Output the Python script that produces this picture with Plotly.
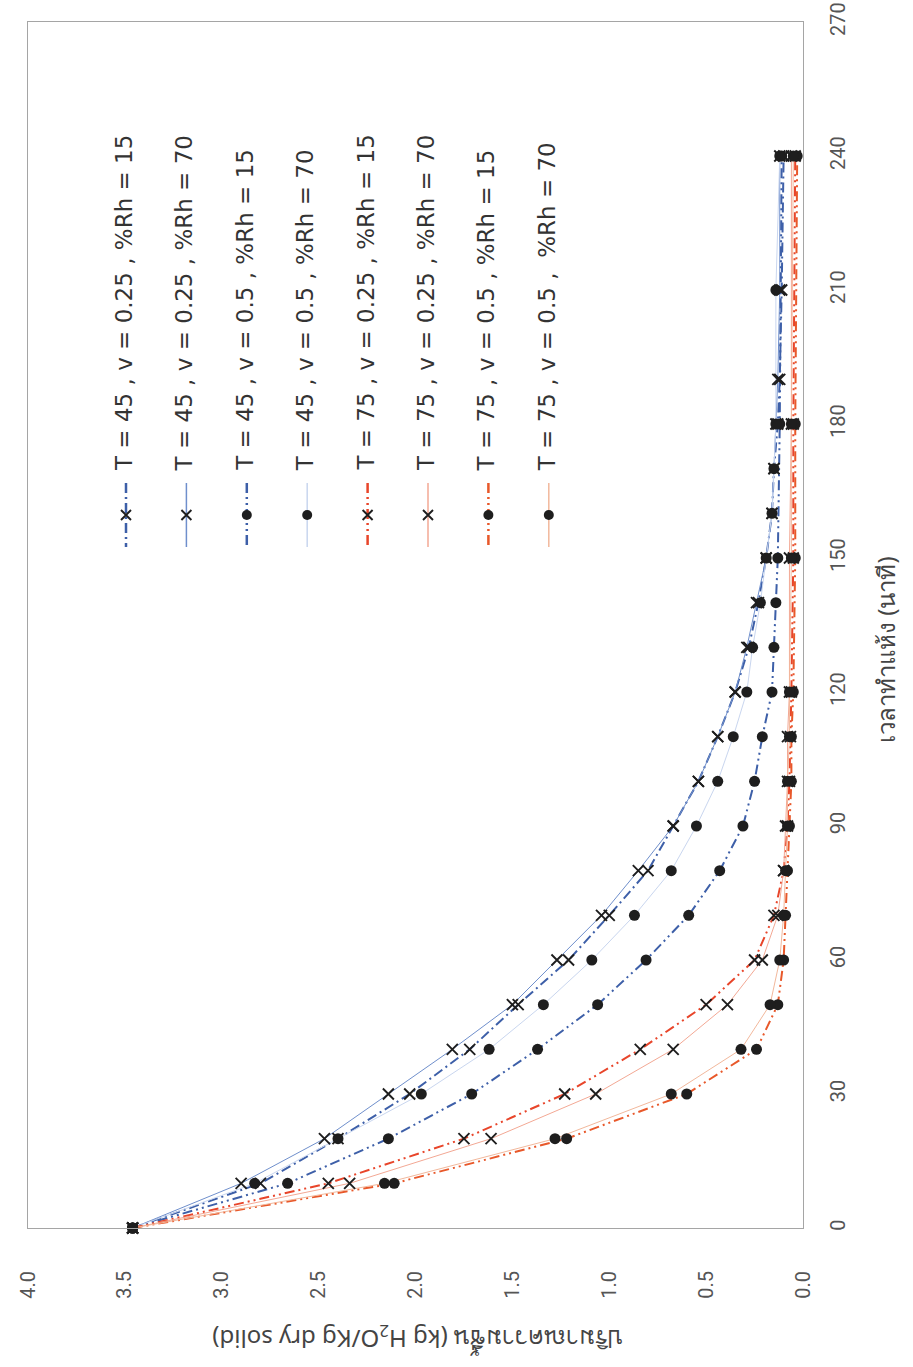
import plotly.graph_objects as go

# ---- data: moisture content (kg H2O / kg dry solid) against drying time (min) ----
t_45_v025 = [0, 10, 20, 30, 40, 50, 60, 70, 80, 90, 100, 110, 120, 130, 140, 150,
             160, 170, 180, 190, 210, 240]
mc_45_v025_rh15 = [3.46, 2.80, 2.40, 2.03, 1.72, 1.47, 1.21, 1.00, 0.80, 0.67, 0.54,
                   0.44, 0.35, 0.28, 0.23, 0.19, 0.16, 0.15, 0.13, 0.12, 0.11, 0.10]
mc_45_v025_rh70 = [3.46, 2.90, 2.47, 2.14, 1.81, 1.50, 1.27, 1.04, 0.85, 0.67, 0.54,
                   0.44, 0.35, 0.29, 0.24, 0.19, 0.16, 0.15, 0.14, 0.13, 0.12, 0.12]

t_45_v05_rh15 = [0, 10, 20, 30, 40, 50, 60, 70, 80, 90, 100, 110, 120, 130, 140, 150,
                 180, 240]
mc_45_v05_rh15 = [3.46, 2.66, 2.14, 1.71, 1.37, 1.06, 0.81, 0.59, 0.43, 0.31, 0.25,
                  0.21, 0.16, 0.15, 0.14, 0.13, 0.12, 0.11]

t_45_v05_rh70 = [0, 10, 20, 30, 40, 50, 60, 70, 80, 90, 100, 110, 120, 130, 140, 150,
                 160, 170, 180, 210, 240]
mc_45_v05_rh70 = [3.46, 2.83, 2.40, 1.97, 1.62, 1.34, 1.09, 0.87, 0.68, 0.55, 0.44,
                  0.36, 0.29, 0.26, 0.22, 0.19, 0.16, 0.15, 0.14, 0.14, 0.12]

t_75 = [0, 10, 20, 30, 40, 50, 60, 70, 80, 90, 100, 110, 120, 150, 180, 240]
mc_75_v025_rh15 = [3.46, 2.45, 1.75, 1.23, 0.84, 0.50, 0.25, 0.15, 0.10, 0.08, 0.07,
                   0.065, 0.06, 0.05, 0.05, 0.04]
mc_75_v025_rh70 = [3.46, 2.34, 1.61, 1.07, 0.67, 0.39, 0.21, 0.13, 0.10, 0.09, 0.08,
                   0.08, 0.07, 0.07, 0.06, 0.06]
mc_75_v05_rh15 = [3.46, 2.11, 1.22, 0.60, 0.24, 0.13, 0.10, 0.09, 0.08, 0.07, 0.06,
                  0.06, 0.05, 0.04, 0.04, 0.03]
mc_75_v05_rh70 = [3.46, 2.16, 1.28, 0.68, 0.32, 0.17, 0.12, 0.10, 0.09, 0.08, 0.08,
                  0.07, 0.07, 0.06, 0.06, 0.05]

series_names = [
    "T = 45 , v = 0.25 , %Rh = 15",
    "T = 45 , v = 0.25 , %Rh = 70",
    "T = 45 , v = 0.5 , %Rh = 15",
    "T = 45 , v = 0.5 , %Rh = 70",
    "T = 75 , v = 0.25 , %Rh = 15",
    "T = 75 , v = 0.25 , %Rh = 70",
    "T = 75 , v = 0.5 , %Rh = 15",
    "T = 75 , v = 0.5 ,\u00a0 %Rh = 70",
]
moisture_ticks = [0.0, 0.5, 1.0, 1.5, 2.0, 2.5, 3.0, 3.5, 4.0]
time_ticks = [0, 30, 60, 90, 120, 150, 180, 210, 240, 270]

x_title = "ปริมาณความชื้น (kg H<sub>2</sub>O/Kg dry solid)"
y_title = "เวลาทำแห้ง (นาที)"

# ---- styling ----
W, H = 913, 1367
L, R, T, B = 28, 803, 22, 1228          # plot frame (px)

DASH_DD = "10px,4px,2px,4px,2px,4px"
DASH_D = "10px,4px,2px,4px"
styles = [
    dict(color="#3d5fa8", width=2.0, dash=DASH_D, marker="x"),
    dict(color="#6f8fcc", width=1.0, dash="solid", marker="x"),
    dict(color="#3d5fa8", width=2.0, dash=DASH_DD, marker="o"),
    dict(color="#c9d6ef", width=1.0, dash="solid", marker="o"),
    dict(color="#e8452a", width=2.0, dash=DASH_DD, marker="x"),
    dict(color="#f3a894", width=1.0, dash="solid", marker="x"),
    dict(color="#e8582a", width=2.0, dash=DASH_DD, marker="o"),
    dict(color="#f2b89c", width=1.0, dash="solid", marker="o"),
]
series = [
    (mc_45_v025_rh15, t_45_v025),
    (mc_45_v025_rh70, t_45_v025),
    (mc_45_v05_rh15, t_45_v05_rh15),
    (mc_45_v05_rh70, t_45_v05_rh70),
    (mc_75_v025_rh15, t_75),
    (mc_75_v025_rh70, t_75),
    (mc_75_v05_rh15, t_75),
    (mc_75_v05_rh70, t_75),
]

MK_COLOR = "#1e1e1e"


def marker_style(kind, size_x=11, size_o=11):
    if kind == "x":
        return dict(symbol="x-thin", size=size_x, color=MK_COLOR,
                    line=dict(width=1.9, color=MK_COLOR))
    return dict(symbol="circle", size=size_o, color=MK_COLOR, line=dict(width=0))


fig = go.Figure()

# lines first, then markers so the markers sit on top
for (mc, t), st in zip(series, styles):
    fig.add_trace(go.Scatter(x=mc, y=t, mode="lines",
                             line=dict(color=st["color"], width=st["width"], dash=st["dash"]),
                             hoverinfo="skip"))
for (mc, t), st, name in zip(series, styles, series_names):
    fig.add_trace(go.Scatter(x=mc, y=t, mode="markers", name=name,
                             marker=marker_style(st["marker"]), cliponaxis=False))

# ---- hand-drawn rotated legend on a pixel overlay ----
leg_x0, leg_dx = 126, 60.4
leg_top, leg_bot, leg_mid = 483, 547, 515
annotations = []
for i, (st, name) in enumerate(zip(styles, series_names)):
    cx = leg_x0 + i * leg_dx
    fig.add_trace(go.Scatter(x=[cx, cx], y=[leg_top, leg_bot], mode="lines",
                             line=dict(color=st["color"], width=st["width"] + 0.5,
                                       dash=st["dash"]),
                             xaxis="x2", yaxis="y2", hoverinfo="skip"))
    fig.add_trace(go.Scatter(x=[cx], y=[leg_mid], mode="markers",
                             marker=marker_style(st["marker"], 10, 10),
                             xaxis="x2", yaxis="y2", hoverinfo="skip"))
    annotations.append(dict(x=cx - 2, y=473, xref="x2", yref="y2", text=name,
                            textangle=-90, showarrow=False, xanchor="center",
                            yanchor="bottom",
                            font=dict(family="DejaVu Sans", size=23, color="#333333")))

# axis titles
annotations.append(dict(x=885, y=650, xref="x2", yref="y2", text=y_title,
                        textangle=-90, showarrow=False, xanchor="center", yanchor="middle",
                        font=dict(family="Noto Sans, DejaVu Sans", size=24, color="#444444")))
annotations.append(dict(x=418, y=1338, xref="x2", yref="y2", text=x_title,
                        textangle=180, showarrow=False, xanchor="center", yanchor="middle",
                        font=dict(family="Noto Sans, DejaVu Sans", size=24, color="#444444")))

tick_font = dict(family="Roboto", size=20, color="#555555")
fig.update_layout(
    width=W, height=H,
    margin=dict(l=0, r=0, t=0, b=0, autoexpand=False),
    paper_bgcolor="white", plot_bgcolor="rgba(0,0,0,0)",
    showlegend=False,
    xaxis=dict(domain=[L / W, R / W], range=[4.0, 0.0], tickvals=moisture_ticks,
               ticktext=[f"{v:.1f}" for v in moisture_ticks], tickangle=-90,
               showline=True, mirror=True, linecolor="#a5a5a5", linewidth=1,
               ticks="", showgrid=False, zeroline=False, tickfont=tick_font,
               ticklabelstandoff=34, anchor="y", automargin=False),
    yaxis=dict(domain=[1 - B / H, 1 - T / H], range=[0, 270], tickvals=time_ticks,
               side="right", tickangle=-90, showline=True, mirror=True,
               linecolor="#a5a5a5", linewidth=1, ticks="", showgrid=False,
               zeroline=False, tickfont=tick_font, ticklabelstandoff=17, anchor="x",
               automargin=False),
    xaxis2=dict(domain=[0, 1], range=[0, W], visible=False, anchor="y2",
                fixedrange=True, automargin=False),
    yaxis2=dict(domain=[0, 1], range=[H, 0], visible=False, anchor="x2",
                fixedrange=True, automargin=False),
    annotations=annotations,
)

fig.write_html("out.html")
